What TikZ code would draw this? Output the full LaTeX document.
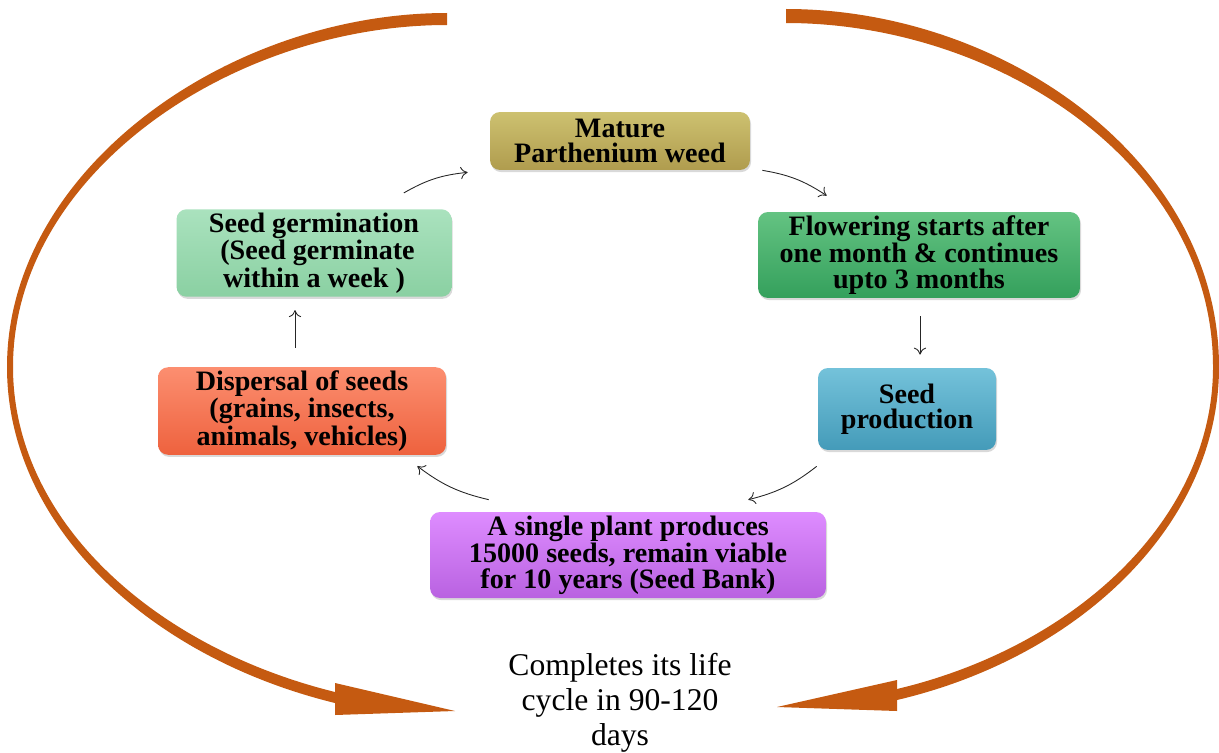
\documentclass[tikz,border=0pt]{standalone}
\usepackage{fontspec}
\setmainfont{Liberation Serif}
\usepackage{tikz}
\usetikzlibrary{arrows.meta,shadows}
\definecolor{curveorange}{RGB}{197,90,17}
\definecolor{matTop}{RGB}{205,193,112}
\definecolor{matBot}{RGB}{176,156,78}
\definecolor{flwTop}{RGB}{100,195,130}
\definecolor{flwBot}{RGB}{52,160,92}
\definecolor{sedTop}{RGB}{116,194,218}
\definecolor{sedBot}{RGB}{68,155,185}
\definecolor{plnTop}{RGB}{222,140,255}
\definecolor{plnBot}{RGB}{185,98,225}
\definecolor{dspTop}{RGB}{252,142,112}
\definecolor{dspBot}{RGB}{238,98,62}
\definecolor{grmTop}{RGB}{170,226,190}
\definecolor{grmBot}{RGB}{138,208,162}

\begin{document}
\begin{tikzpicture}[
    x=0.02cm, y=0.02cm,
    box/.style={rounded corners=0.2cm, align=center, inner sep=2pt,
                font=\fontsize{16}{14.5}\selectfont\bfseries,
                drop shadow={shadow xshift=0.6pt, shadow yshift=-1.2pt, opacity=0.3}},
    grad/.style 2 args={top color=#1, bottom color=#2},
    arr/.style={-{To[length=4pt,width=7pt]}, black!85, line width=0.5pt, bend left=12},
    band/.style={fill=curveorange}
]
    \useasboundingbox (0,0) rectangle (1219,752);

    \node[box, grad={matTop}{matBot}, minimum width=5.2cm, minimum height=1.16cm]
        (mature) at (620,611) {Mature\\Parthenium weed};
    \node[box, grad={flwTop}{flwBot}, minimum width=6.44cm, minimum height=1.72cm]
        (flower) at (919,497) {Flowering starts after\\one month \& continues\\upto 3 months};
    \node[box, grad={sedTop}{sedBot}, minimum width=3.56cm, minimum height=1.64cm]
        (seed) at (907,343) {Seed\\production};
    \node[box, grad={plnTop}{plnBot}, minimum width=7.92cm, minimum height=1.72cm]
        (plant) at (628,197) {A single plant produces\\15000 seeds, remain viable\\for 10 years (Seed Bank)};
    \node[box, grad={dspTop}{dspBot}, minimum width=5.76cm, minimum height=1.74cm]
        (disperse) at (302,341) {Dispersal of seeds\\(grains, insects,\\animals, vehicles)};
    \node[box, grad={grmTop}{grmBot}, minimum width=5.5cm, minimum height=1.64cm]
        (germ) at (314,499) {Seed germination\\\ (Seed germinate\\within a week )};

    \node[font=\fontsize{18}{20}\selectfont, align=center] (cycle) at (620,49)
        {Completes its life\\cycle in 90-120\\days};

    \draw[arr] ([shift={(-48,16)}]germ.north east) to ([shift={(-22,-2)}]mature.south west);
    \draw[arr] ([shift={(12,0)}]mature.south east) to ([shift={(69,16)}]flower.north west);
    \draw[arr] ([shift={(1,-18)}]flower.south) -- ([shift={(13,13)}]seed.north);
    \draw[arr] ([shift={(-1,-16)}]seed.south west) to ([shift={(-78,12)}]plant.north east);
    \draw[arr] ([shift={(59,12)}]plant.north west) to ([shift={(-29,-11)}]disperse.south east);
    \draw[arr] ([shift={(-7,19)}]disperse.north) -- ([shift={(-19,-13)}]germ.south);

    \fill[band] (447,739) .. controls (228,739) and (7,582) .. (7,385)
        .. controls (7,228) and (147,95) .. (335,49) -- (335,60)
        .. controls (153,105) and (13,232) .. (13,385)
        .. controls (13,578) and (232,727) .. (447,727) -- cycle;
    \fill[band] (335,69) -- (455,41) -- (335,37) -- cycle;

    \fill[band] (786,743) .. controls (1003,743) and (1219,592) .. (1219,385)
        .. controls (1219,228) and (1080,95) .. (897,52) -- (897,63)
        .. controls (1074,105) and (1213,232) .. (1213,385)
        .. controls (1213,588) and (997,729) .. (786,729) -- cycle;
    \fill[band] (897,72) -- (777,45) -- (897,41) -- cycle;
\end{tikzpicture}
\end{document}
